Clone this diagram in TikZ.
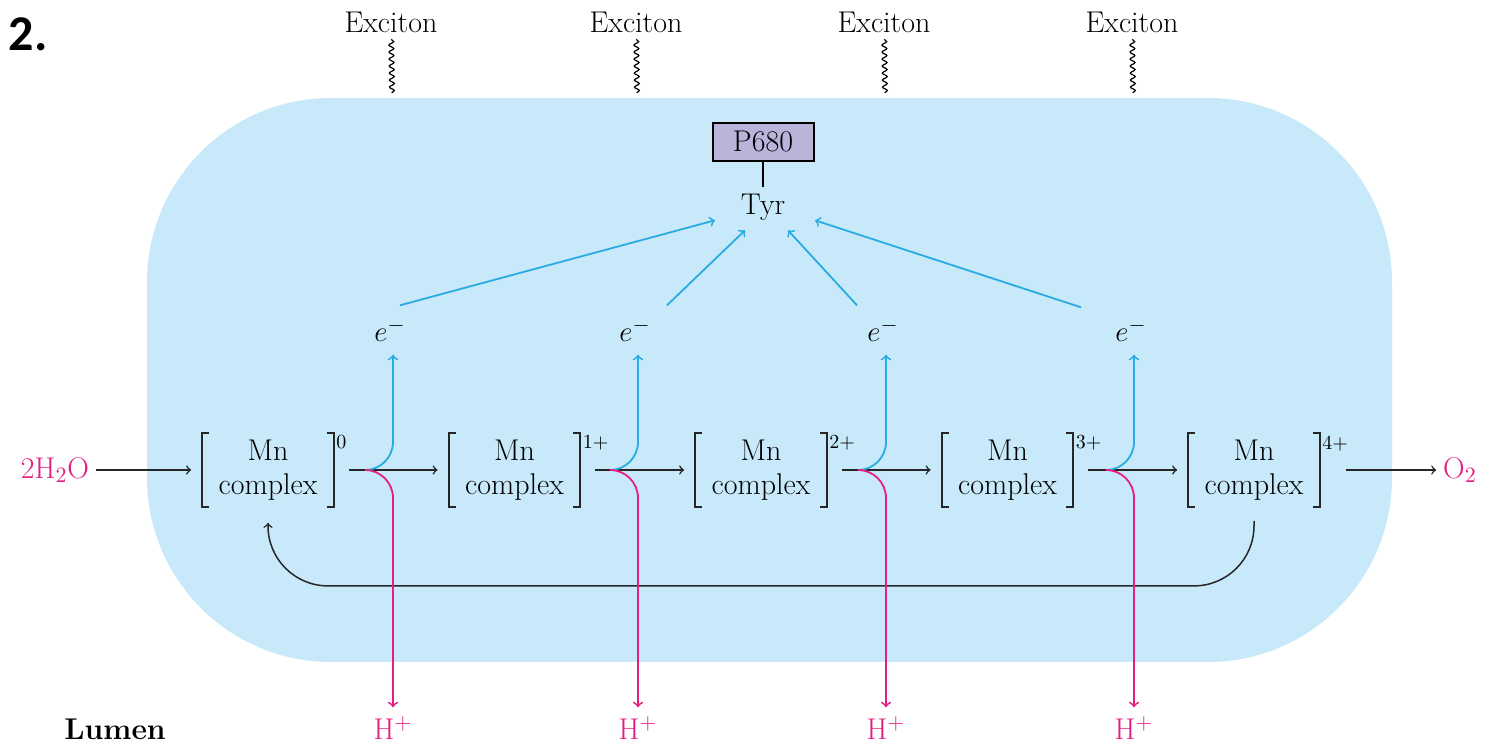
\documentclass[tikz,border=0pt]{standalone}
\usepackage{fontspec}
\newfontfamily\numfont{Carlito}
\usepackage{amsmath}
\usepackage{tikz}
\usetikzlibrary{arrows,calc,decorations.pathmorphing}

\definecolor{memblue}{RGB}{200,233,250}
\definecolor{eblue}{RGB}{41,171,226}
\definecolor{hpink}{RGB}{230,30,130}
\definecolor{plilac}{RGB}{184,180,218}

\tikzset{
	txt/.style={font=\fontsize{15}{17}\selectfont},
	mn/.style={txt, align=center, minimum width=65.5pt, minimum height=36.5pt, inner sep=0pt},
	charge/.style={font=\fontsize{10}{12}\selectfont, anchor=north west, inner sep=1pt},
	arr/.style={->, line width=0.75pt, black!85},
	eline/.style={->, line width=0.9pt, eblue},
	hline/.style={->, line width=0.9pt, hpink},
	bracket/.style={line width=1pt, black!85},
	wave/.style={decorate, decoration={snake, amplitude=1.2pt, segment length=3.5pt}, line width=0.6pt},
}

\begin{document}
\begin{tikzpicture}[x=0.5pt,y=-0.5pt]
	
	\useasboundingbox (0,0) rectangle (1489,747);
	\fill[memblue, rounded corners=92pt] (147,98) rectangle (1392,662);
	
	\node[font=\numfont\bfseries\fontsize{25}{28}\selectfont] (num) at (28,34) {2.};
	
	% Mn complexes
	\foreach \i/\x/\c in {0/268/0,1/514.5/1+,2/761/2+,3/1007.5/3+,4/1254/4+}{
		\node[mn] (m\i) at (\x,470) {Mn\\complex};
		\draw[bracket] ([xshift=3.5pt]m\i.north west) -| (m\i.south west) -- ++(3.5pt,0pt);
		\draw[bracket] ([xshift=-3.5pt]m\i.north east) -| (m\i.south east) -- ++(-3.5pt,0pt);
		\node[charge] (c\i) at (m\i.north east) {\c};
	}
	
	\node[txt, hpink] (h2o) at (55,470) {2H$_2$O};
	\node[txt, hpink] (o2) at (1460,470) {O$_2$};
	\node[draw, fill=plilac, line width=1pt, txt, minimum width=50.5pt, minimum height=19pt, inner sep=0pt] (p680) at (763,142) {P680};
	\node[txt] (tyr) at (763,207) {Tyr};
	\node[txt] (lumen) at (115,729) {\bfseries Lumen};
	
	\draw[line width=1pt] (p680) -- (tyr);
	\draw[arr, shorten >=5.5pt] (h2o) -- (m0);
	\foreach \i/\j in {0/1,1/2,2/3,3/4}
		\draw[arr, shorten <=7.5pt, shorten >=5.5pt] (m\i) -- (m\j);
	\draw[arr, shorten <=13pt] (m4) -- (o2);
	\draw[arr, rounded corners=30pt] ([yshift=-7pt]m4.south) -- ++(0,65) -| ([yshift=-8pt]m0.south);
	
	% branches
	\foreach \j/\x in {1/393,2/638,3/886,4/1134}{
		\coordinate (b\j) at (\x-28,470);
		\node[txt] (e\j) at (\x-3,330) {$e^-$};
		\node[txt, hpink] (h\j) at (\x,728) {H$^+$};
		\node[txt] (x\j) at (\x-2,22) {Exciton};
		\coordinate (w\j) at (\x-1,93);
		\draw[wave] (x\j) -- (w\j);
		\draw[eline, rounded corners=14pt] (b\j) -| ([xshift=1.5pt,yshift=-3pt]e\j.south);
		\draw[hline, rounded corners=14pt, shorten >=1pt] (b\j) -| (h\j);
	}
	
	\draw[eline] ([xshift=5pt,yshift=3pt]e1.north) -- ([xshift=-24pt,yshift=3.5pt]tyr.south);
	\draw[eline] ([xshift=16pt,yshift=3pt]e2.north) -- ([xshift=-9pt,yshift=-1.5pt]tyr.south);
	\draw[eline] ([xshift=-13pt,yshift=3pt]e3.north) -- ([xshift=12.5pt,yshift=-1.5pt]tyr.south);
	\draw[eline] ([xshift=-25pt,yshift=2pt]e4.north) -- ([xshift=26pt,yshift=3.5pt]tyr.south);
	
\end{tikzpicture}
\end{document}
